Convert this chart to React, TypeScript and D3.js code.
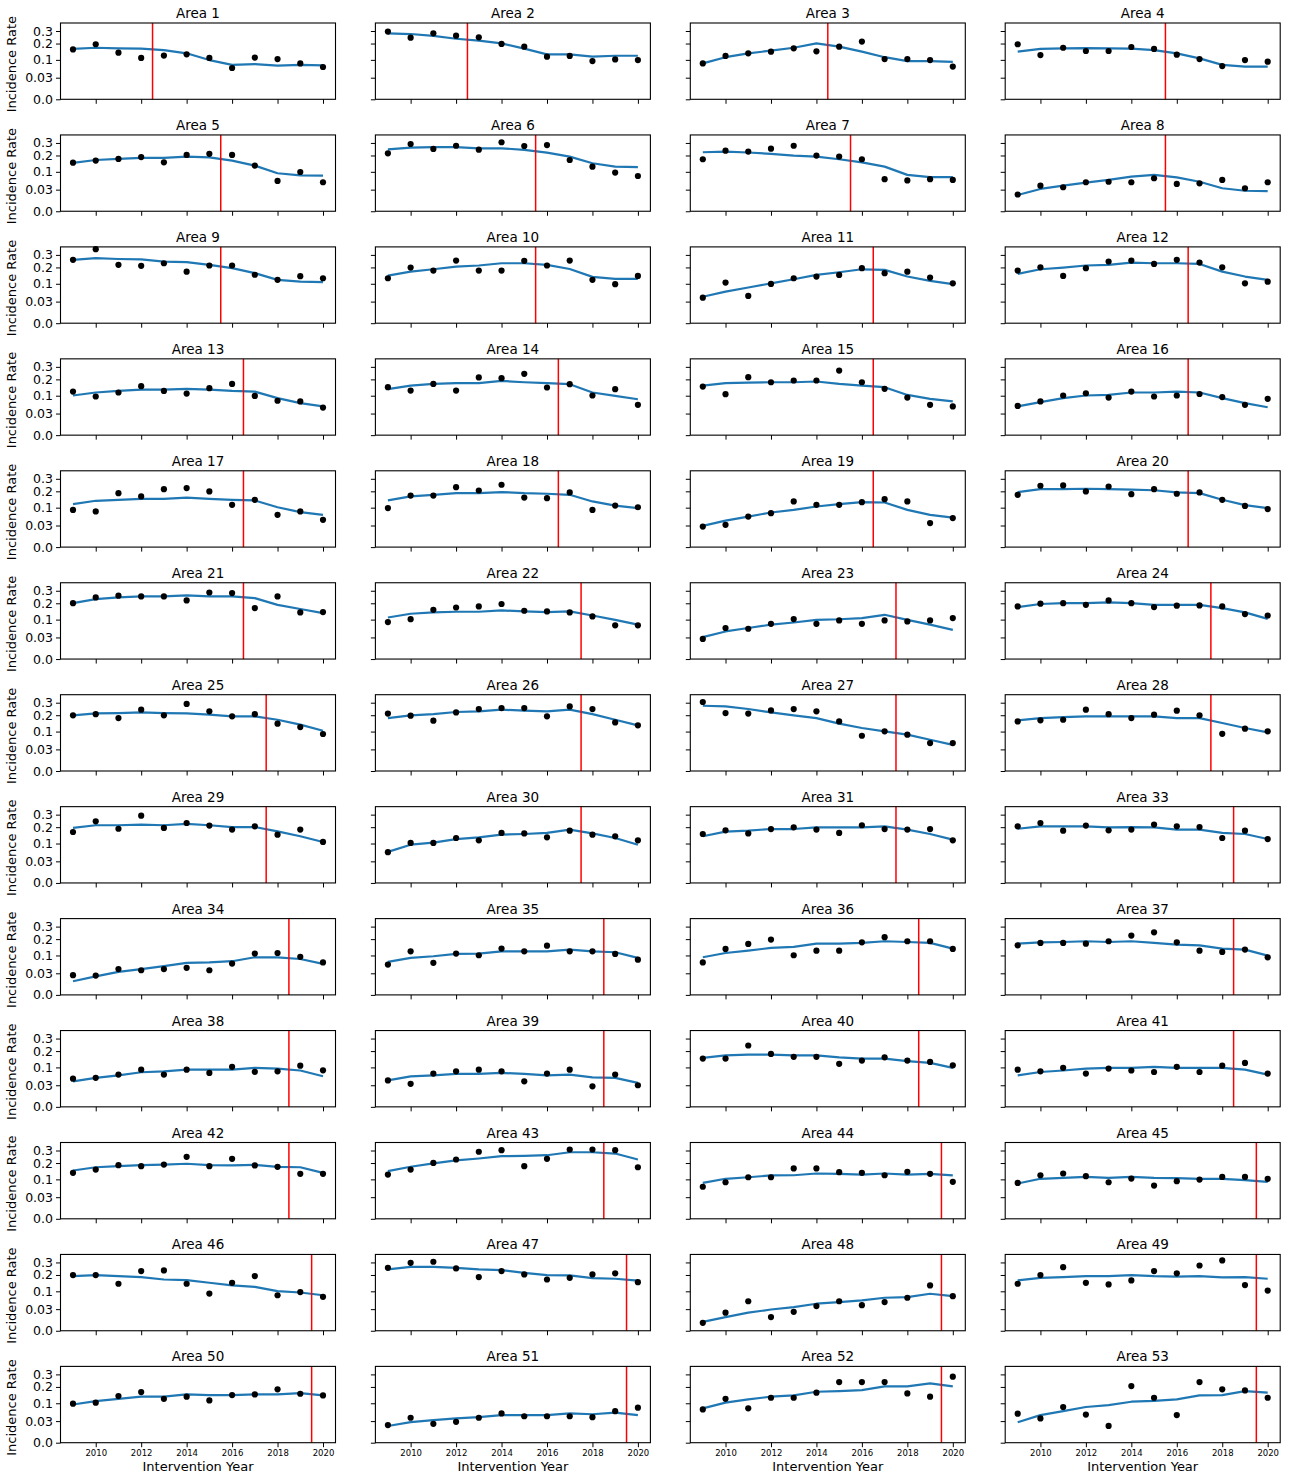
import React, { useEffect, useRef } from "react";
import * as d3 from "d3";

const years = [2009, 2010, 2011, 2012, 2013, 2014, 2015, 2016, 2017, 2018, 2019, 2020];
const xTicks = [2010, 2012, 2014, 2016, 2018, 2020];
const yTicks = [0, 0.03, 0.1, 0.2, 0.3];
const yTickLabels = ["0.0", "0.03", "0.1", "0.2", "0.3"];

const areaIds = [1, 2, 3, 4, 5, 6, 7, 8, 9, 10, 11, 12, 13, 14, 15, 16, 17, 18, 19, 20, 21, 22, 23, 24, 25, 26,
  27, 28, 29, 30, 31, 33, 34, 35, 36, 37, 38, 39, 40, 41, 42, 43, 44, 45, 46, 47, 48, 49, 50, 51, 52, 53];

// year the intervention started (red line)
const cutoffs = [2012.5, 2012.5, 2014.5, 2015.5, 2015.5, 2015.5, 2015.5, 2015.5, 2015.5, 2015.5,
  2016.5, 2016.5, 2016.5, 2016.5, 2016.5, 2016.5, 2016.5, 2016.5, 2016.5, 2016.5, 2016.5,
  2017.5, 2017.5, 2017.5, 2017.5, 2017.5, 2017.5, 2017.5, 2017.5, 2017.5, 2017.5,
  2018.5, 2018.5, 2018.5, 2018.5, 2018.5, 2018.5, 2018.5, 2018.5, 2018.5, 2018.5, 2018.5,
  2019.5, 2019.5, 2019.5, 2019.5, 2019.5, 2019.5, 2019.5, 2019.5, 2019.5, 2019.5];

// observed incidence rates
const observed = [
  [0.160, 0.195, 0.140, 0.110, 0.123, 0.130, 0.110, 0.063, 0.112, 0.104, 0.083, 0.067],
  [0.295, 0.244, 0.280, 0.260, 0.247, 0.197, 0.178, 0.117, 0.121, 0.094, 0.102, 0.099],
  [0.083, 0.121, 0.136, 0.146, 0.167, 0.148, 0.178, 0.214, 0.104, 0.104, 0.099, 0.069],
  [0.195, 0.126, 0.171, 0.150, 0.150, 0.176, 0.163, 0.128, 0.104, 0.071, 0.099, 0.091],
  [0.152, 0.165, 0.176, 0.189, 0.154, 0.204, 0.212, 0.204, 0.134, 0.059, 0.099, 0.054],
  [0.216, 0.291, 0.250, 0.276, 0.244, 0.306, 0.274, 0.282, 0.169, 0.128, 0.096, 0.080],
  [0.174, 0.236, 0.229, 0.252, 0.276, 0.199, 0.192, 0.174, 0.066, 0.061, 0.066, 0.063],
  [0.018, 0.042, 0.037, 0.054, 0.056, 0.054, 0.070, 0.048, 0.050, 0.063, 0.034, 0.054],
  [0.258, 0.352, 0.219, 0.212, 0.231, 0.171, 0.214, 0.214, 0.151, 0.121, 0.142, 0.130],
  [0.130, 0.199, 0.178, 0.252, 0.178, 0.178, 0.250, 0.214, 0.252, 0.121, 0.098, 0.144],
  [0.042, 0.106, 0.048, 0.099, 0.130, 0.140, 0.150, 0.195, 0.161, 0.171, 0.134, 0.102],
  [0.178, 0.201, 0.144, 0.195, 0.244, 0.252, 0.226, 0.258, 0.236, 0.201, 0.102, 0.111],
  [0.122, 0.096, 0.117, 0.154, 0.126, 0.111, 0.142, 0.169, 0.099, 0.076, 0.073, 0.049],
  [0.148, 0.128, 0.169, 0.128, 0.214, 0.209, 0.242, 0.146, 0.167, 0.101, 0.136, 0.059],
  [0.152, 0.108, 0.216, 0.180, 0.192, 0.192, 0.268, 0.180, 0.138, 0.091, 0.059, 0.053],
  [0.055, 0.073, 0.101, 0.113, 0.091, 0.122, 0.096, 0.101, 0.109, 0.093, 0.059, 0.085],
  [0.089, 0.082, 0.187, 0.165, 0.216, 0.224, 0.199, 0.115, 0.144, 0.067, 0.082, 0.048],
  [0.098, 0.171, 0.171, 0.231, 0.206, 0.250, 0.158, 0.154, 0.192, 0.089, 0.111, 0.102],
  [0.027, 0.032, 0.060, 0.074, 0.134, 0.115, 0.115, 0.130, 0.148, 0.134, 0.037, 0.054],
  [0.176, 0.242, 0.245, 0.199, 0.236, 0.180, 0.216, 0.183, 0.192, 0.144, 0.109, 0.093],
  [0.201, 0.244, 0.258, 0.252, 0.252, 0.221, 0.285, 0.280, 0.167, 0.252, 0.140, 0.142],
  [0.088, 0.102, 0.156, 0.171, 0.178, 0.195, 0.150, 0.146, 0.140, 0.117, 0.073, 0.073],
  [0.026, 0.062, 0.059, 0.080, 0.103, 0.080, 0.096, 0.080, 0.096, 0.091, 0.096, 0.108],
  [0.178, 0.197, 0.201, 0.189, 0.221, 0.201, 0.174, 0.183, 0.185, 0.178, 0.130, 0.122],
  [0.199, 0.208, 0.180, 0.242, 0.199, 0.289, 0.229, 0.192, 0.208, 0.144, 0.124, 0.088],
  [0.212, 0.197, 0.163, 0.221, 0.247, 0.255, 0.255, 0.192, 0.268, 0.247, 0.152, 0.134],
  [0.306, 0.216, 0.212, 0.236, 0.247, 0.229, 0.158, 0.080, 0.101, 0.085, 0.050, 0.050],
  [0.158, 0.165, 0.169, 0.242, 0.208, 0.180, 0.204, 0.234, 0.199, 0.089, 0.115, 0.101],
  [0.167, 0.244, 0.189, 0.291, 0.195, 0.231, 0.212, 0.183, 0.206, 0.150, 0.183, 0.108],
  [0.061, 0.103, 0.103, 0.130, 0.117, 0.161, 0.158, 0.134, 0.176, 0.150, 0.140, 0.117],
  [0.154, 0.178, 0.158, 0.187, 0.199, 0.183, 0.161, 0.214, 0.187, 0.183, 0.187, 0.117],
  [0.206, 0.231, 0.176, 0.212, 0.178, 0.183, 0.219, 0.206, 0.201, 0.130, 0.176, 0.124],
  [0.025, 0.024, 0.043, 0.039, 0.043, 0.047, 0.039, 0.063, 0.110, 0.113, 0.093, 0.068],
  [0.059, 0.122, 0.066, 0.110, 0.101, 0.138, 0.122, 0.156, 0.122, 0.122, 0.108, 0.080],
  [0.068, 0.136, 0.167, 0.197, 0.101, 0.126, 0.126, 0.178, 0.214, 0.185, 0.185, 0.136],
  [0.158, 0.174, 0.174, 0.169, 0.185, 0.226, 0.252, 0.178, 0.126, 0.119, 0.132, 0.091],
  [0.051, 0.054, 0.067, 0.089, 0.067, 0.089, 0.074, 0.103, 0.079, 0.081, 0.109, 0.086],
  [0.045, 0.034, 0.071, 0.081, 0.089, 0.081, 0.042, 0.071, 0.089, 0.027, 0.067, 0.030],
  [0.150, 0.150, 0.242, 0.180, 0.161, 0.161, 0.119, 0.138, 0.158, 0.138, 0.130, 0.111],
  [0.089, 0.081, 0.098, 0.071, 0.094, 0.085, 0.078, 0.103, 0.078, 0.109, 0.124, 0.071],
  [0.136, 0.156, 0.185, 0.178, 0.189, 0.247, 0.178, 0.231, 0.183, 0.174, 0.130, 0.130],
  [0.126, 0.156, 0.201, 0.226, 0.289, 0.303, 0.178, 0.231, 0.309, 0.309, 0.303, 0.171],
  [0.066, 0.086, 0.111, 0.111, 0.163, 0.163, 0.140, 0.136, 0.122, 0.142, 0.130, 0.088],
  [0.083, 0.122, 0.132, 0.117, 0.086, 0.104, 0.071, 0.091, 0.099, 0.113, 0.113, 0.103],
  [0.199, 0.199, 0.142, 0.229, 0.234, 0.142, 0.089, 0.148, 0.192, 0.081, 0.096, 0.074],
  [0.255, 0.297, 0.306, 0.250, 0.185, 0.229, 0.204, 0.169, 0.180, 0.204, 0.212, 0.152],
  [0.004, 0.021, 0.056, 0.012, 0.023, 0.039, 0.056, 0.042, 0.053, 0.070, 0.132, 0.077],
  [0.142, 0.199, 0.260, 0.148, 0.138, 0.163, 0.229, 0.212, 0.274, 0.318, 0.134, 0.104],
  [0.098, 0.103, 0.140, 0.165, 0.124, 0.136, 0.115, 0.146, 0.150, 0.183, 0.154, 0.144],
  [0.020, 0.040, 0.023, 0.028, 0.040, 0.055, 0.045, 0.045, 0.045, 0.042, 0.064, 0.079],
  [0.071, 0.124, 0.076, 0.130, 0.130, 0.161, 0.236, 0.236, 0.236, 0.156, 0.136, 0.280],
  [0.054, 0.038, 0.082, 0.051, 0.018, 0.206, 0.130, 0.049, 0.236, 0.183, 0.176, 0.130],
];

// smoothed trend (blue line)
const fitted = [
  [0.163, 0.171, 0.167, 0.165, 0.156, 0.136, 0.099, 0.076, 0.080, 0.073, 0.076, 0.074],
  [0.280, 0.274, 0.258, 0.236, 0.221, 0.201, 0.165, 0.130, 0.130, 0.117, 0.122, 0.122],
  [0.083, 0.114, 0.136, 0.152, 0.171, 0.201, 0.178, 0.146, 0.114, 0.094, 0.094, 0.090],
  [0.146, 0.163, 0.167, 0.169, 0.167, 0.165, 0.156, 0.136, 0.108, 0.076, 0.069, 0.069],
  [0.150, 0.169, 0.176, 0.183, 0.183, 0.192, 0.187, 0.165, 0.134, 0.093, 0.083, 0.082],
  [0.246, 0.260, 0.265, 0.265, 0.255, 0.255, 0.242, 0.221, 0.192, 0.148, 0.128, 0.125],
  [0.224, 0.229, 0.222, 0.212, 0.199, 0.192, 0.174, 0.154, 0.128, 0.085, 0.075, 0.075],
  [0.017, 0.032, 0.042, 0.053, 0.063, 0.077, 0.085, 0.074, 0.056, 0.034, 0.027, 0.026],
  [0.258, 0.272, 0.265, 0.262, 0.244, 0.240, 0.219, 0.195, 0.161, 0.121, 0.111, 0.108],
  [0.146, 0.171, 0.187, 0.206, 0.214, 0.231, 0.231, 0.219, 0.189, 0.138, 0.126, 0.126],
  [0.045, 0.064, 0.082, 0.102, 0.124, 0.150, 0.167, 0.187, 0.183, 0.140, 0.115, 0.098],
  [0.156, 0.187, 0.199, 0.214, 0.219, 0.236, 0.231, 0.231, 0.226, 0.171, 0.140, 0.121],
  [0.101, 0.117, 0.126, 0.133, 0.133, 0.138, 0.133, 0.126, 0.122, 0.088, 0.066, 0.053],
  [0.136, 0.158, 0.169, 0.174, 0.174, 0.189, 0.180, 0.174, 0.167, 0.117, 0.099, 0.083],
  [0.158, 0.174, 0.178, 0.180, 0.180, 0.185, 0.169, 0.158, 0.148, 0.104, 0.085, 0.073],
  [0.053, 0.070, 0.088, 0.101, 0.104, 0.117, 0.117, 0.122, 0.117, 0.088, 0.066, 0.050],
  [0.119, 0.138, 0.144, 0.150, 0.150, 0.158, 0.150, 0.144, 0.140, 0.102, 0.079, 0.067],
  [0.140, 0.165, 0.176, 0.187, 0.187, 0.195, 0.187, 0.183, 0.176, 0.134, 0.111, 0.098],
  [0.029, 0.045, 0.060, 0.077, 0.089, 0.106, 0.119, 0.130, 0.128, 0.089, 0.067, 0.056],
  [0.195, 0.216, 0.216, 0.219, 0.216, 0.212, 0.208, 0.192, 0.187, 0.144, 0.113, 0.098],
  [0.201, 0.231, 0.244, 0.252, 0.252, 0.260, 0.252, 0.252, 0.239, 0.189, 0.161, 0.136],
  [0.111, 0.132, 0.140, 0.144, 0.144, 0.152, 0.146, 0.142, 0.146, 0.122, 0.099, 0.076],
  [0.031, 0.049, 0.062, 0.076, 0.086, 0.099, 0.102, 0.108, 0.126, 0.099, 0.076, 0.055],
  [0.174, 0.195, 0.201, 0.201, 0.206, 0.201, 0.189, 0.189, 0.189, 0.167, 0.140, 0.104],
  [0.199, 0.214, 0.216, 0.221, 0.216, 0.214, 0.204, 0.192, 0.192, 0.169, 0.138, 0.104],
  [0.180, 0.199, 0.208, 0.224, 0.229, 0.242, 0.234, 0.229, 0.242, 0.208, 0.169, 0.134],
  [0.274, 0.268, 0.247, 0.221, 0.199, 0.180, 0.144, 0.119, 0.101, 0.085, 0.063, 0.044],
  [0.165, 0.180, 0.187, 0.192, 0.192, 0.192, 0.192, 0.180, 0.180, 0.148, 0.119, 0.096],
  [0.195, 0.214, 0.214, 0.219, 0.214, 0.224, 0.214, 0.201, 0.201, 0.171, 0.140, 0.108],
  [0.062, 0.094, 0.105, 0.124, 0.134, 0.150, 0.154, 0.161, 0.183, 0.158, 0.130, 0.094],
  [0.140, 0.169, 0.176, 0.187, 0.187, 0.199, 0.199, 0.199, 0.206, 0.183, 0.154, 0.121],
  [0.189, 0.206, 0.206, 0.206, 0.199, 0.201, 0.199, 0.183, 0.183, 0.161, 0.154, 0.124],
  [0.012, 0.022, 0.034, 0.043, 0.053, 0.066, 0.068, 0.073, 0.091, 0.091, 0.083, 0.062],
  [0.070, 0.088, 0.096, 0.108, 0.110, 0.122, 0.122, 0.122, 0.132, 0.122, 0.117, 0.088],
  [0.091, 0.113, 0.126, 0.142, 0.148, 0.169, 0.169, 0.174, 0.185, 0.180, 0.174, 0.138],
  [0.169, 0.178, 0.180, 0.185, 0.180, 0.185, 0.174, 0.163, 0.158, 0.138, 0.132, 0.099],
  [0.042, 0.054, 0.064, 0.077, 0.081, 0.089, 0.089, 0.089, 0.098, 0.094, 0.085, 0.060],
  [0.045, 0.060, 0.064, 0.070, 0.070, 0.074, 0.070, 0.064, 0.067, 0.056, 0.054, 0.037],
  [0.154, 0.171, 0.176, 0.176, 0.171, 0.171, 0.158, 0.150, 0.150, 0.134, 0.124, 0.098],
  [0.064, 0.078, 0.085, 0.094, 0.098, 0.098, 0.103, 0.098, 0.098, 0.098, 0.089, 0.067],
  [0.150, 0.171, 0.178, 0.185, 0.189, 0.195, 0.185, 0.183, 0.187, 0.174, 0.171, 0.136],
  [0.146, 0.174, 0.197, 0.219, 0.234, 0.252, 0.255, 0.260, 0.285, 0.285, 0.274, 0.226],
  [0.083, 0.103, 0.111, 0.121, 0.122, 0.132, 0.130, 0.126, 0.132, 0.126, 0.130, 0.121],
  [0.080, 0.103, 0.108, 0.113, 0.108, 0.113, 0.108, 0.106, 0.103, 0.103, 0.096, 0.088],
  [0.192, 0.199, 0.192, 0.185, 0.169, 0.165, 0.148, 0.132, 0.124, 0.101, 0.094, 0.081],
  [0.242, 0.263, 0.263, 0.255, 0.242, 0.236, 0.216, 0.199, 0.197, 0.178, 0.174, 0.161],
  [0.005, 0.012, 0.021, 0.029, 0.036, 0.047, 0.053, 0.059, 0.070, 0.073, 0.088, 0.077],
  [0.163, 0.180, 0.185, 0.192, 0.192, 0.199, 0.192, 0.189, 0.192, 0.183, 0.185, 0.174],
  [0.094, 0.111, 0.124, 0.136, 0.136, 0.150, 0.146, 0.146, 0.150, 0.150, 0.158, 0.144],
  [0.018, 0.027, 0.033, 0.038, 0.042, 0.049, 0.049, 0.049, 0.055, 0.052, 0.058, 0.049],
  [0.076, 0.103, 0.121, 0.136, 0.144, 0.167, 0.171, 0.178, 0.204, 0.204, 0.226, 0.204],
  [0.027, 0.049, 0.064, 0.082, 0.091, 0.108, 0.113, 0.121, 0.144, 0.146, 0.171, 0.161],
];

const W = 1292;
const H = 1476;
const FONT = "DejaVu Sans, sans-serif";

const App = () => {
  const ref = useRef<SVGSVGElement>(null);

  useEffect(() => {
    const svg = d3.select(ref.current);
    svg.selectAll("*").remove();

    const nCols = 4;
    const nRows = Math.ceil(areaIds.length / nCols);
    const colPitch = 314.9;
    const rowPitch = 111.95;
    const left0 = 60.5;
    const top0 = 23;
    const pw = 275;
    const ph = 76.3;

    const x = d3.scaleLinear().domain([2008.45, 2020.55]).range([0, pw]);
    const y = d3.scaleSqrt().domain([0, 0.3744]).range([ph, 0]);

    const line = d3.line<number>()
      .x((d, i) => x(years[i]))
      .y(d => y(d));

    areaIds.forEach((id, k) => {
      const r = Math.floor(k / nCols);
      const c = k % nCols;
      const g = svg.append("g")
        .attr("transform", `translate(${left0 + c * colPitch}, ${top0 + r * rowPitch})`);

      g.append("text")
        .attr("x", pw / 2)
        .attr("y", -5)
        .attr("text-anchor", "middle")
        .style("font-family", FONT)
        .style("font-size", "13.5px")
        .text(`Area ${id}`);

      // y ticks
      const yAxis = d3.axisLeft(y)
        .tickValues(yTicks)
        .tickSize(4.5)
        .tickPadding(3)
        .tickFormat((d, i) => (c === 0 ? yTickLabels[i] : ""));
      const ya = g.append("g").call(yAxis);
      ya.select(".domain").remove();
      ya.selectAll("text").style("font-family", FONT).style("font-size", "12.5px").attr("fill", "#000");
      ya.selectAll("line").attr("stroke", "#000").attr("stroke-width", 1);

      // x ticks
      const xAxis = d3.axisBottom(x)
        .tickValues(xTicks)
        .tickSize(4.5)
        .tickPadding(3)
        .tickFormat(d => (r === nRows - 1 ? String(d) : ""));
      const xa = g.append("g").attr("transform", `translate(0, ${ph})`).call(xAxis);
      xa.select(".domain").remove();
      xa.selectAll("text").style("font-family", FONT).style("font-size", "8.5px").attr("fill", "#000");
      xa.selectAll("line").attr("stroke", "#000").attr("stroke-width", 1);

      // trend line
      g.append("path")
        .datum(fitted[k])
        .attr("d", line)
        .attr("fill", "none")
        .attr("stroke", "#1f77b4")
        .attr("stroke-width", 2.2)
        .attr("stroke-linejoin", "round");

      // observed points
      g.selectAll("circle")
        .data(observed[k])
        .enter()
        .append("circle")
        .attr("cx", (d, i) => x(years[i]))
        .attr("cy", d => y(d))
        .attr("r", 3.1)
        .attr("fill", "#000");

      // intervention line
      g.append("line")
        .attr("x1", x(cutoffs[k]))
        .attr("x2", x(cutoffs[k]))
        .attr("y1", 0)
        .attr("y2", ph)
        .attr("stroke", "red")
        .attr("stroke-width", 1.5);

      g.append("rect")
        .attr("width", pw)
        .attr("height", ph)
        .attr("fill", "none")
        .attr("stroke", "#000")
        .attr("stroke-width", 1.1);

      if (c === 0) {
        g.append("text")
          .attr("transform", `translate(${-45}, ${ph / 2 + 3}) rotate(-90)`)
          .attr("text-anchor", "middle")
          .style("font-family", FONT)
          .style("font-size", "13px")
          .text("Incidence Rate");
      }
      if (r === nRows - 1) {
        g.append("text")
          .attr("x", pw / 2)
          .attr("y", ph + 28)
          .attr("text-anchor", "middle")
          .style("font-family", FONT)
          .style("font-size", "13px")
          .text("Intervention Year");
      }
    });
  }, []);

  return (
    <svg
      ref={ref}
      width={W}
      height={H}
      style={{ position: "absolute", left: 0, top: 0, background: "#fff" }}
    />
  );
};

export default App;
